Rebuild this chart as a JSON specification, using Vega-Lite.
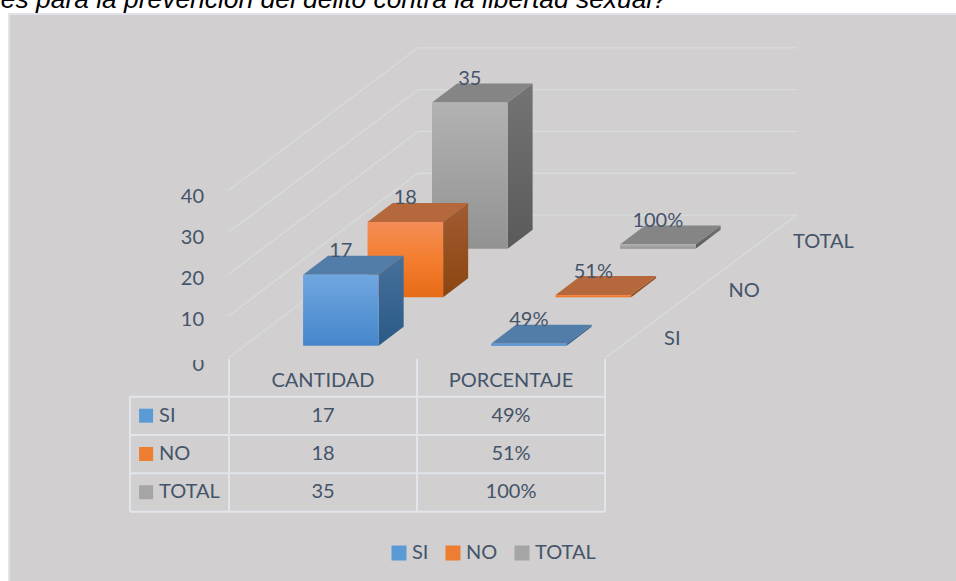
{
"$schema":"https://vega.github.io/schema/vega-lite/v6.json",
"width":956,"height":581,"padding":0,"autosize":"none","background":"white",
"config":{"view":{"stroke":null},"axis":{"disable":true},"text":{"font":"Lato","fontSize":20,"color":"#44546a"}},
"datasets":{
"bars":[
{"metric":"CANTIDAD","series":"SI","value":17},
{"metric":"CANTIDAD","series":"NO","value":18},
{"metric":"CANTIDAD","series":"TOTAL","value":35},
{"metric":"PORCENTAJE","series":"SI","value":0.49},
{"metric":"PORCENTAJE","series":"NO","value":0.51},
{"metric":"PORCENTAJE","series":"TOTAL","value":1}],
"levels":[{"level":0},{"level":10},{"level":20},{"level":30},{"level":40}],
"seriesNames":[{"series":"SI"},{"series":"NO"},{"series":"TOTAL"}],
"metricNames":[{"metric":"CANTIDAD"},{"metric":"PORCENTAJE"}]
},
"layer":[
{"data":{"values":[{"part":"chart area"}]},
 "mark":{"type":"rect","fill":"#d1cfcf","stroke":"#dfe3e8","strokeWidth":2},
 "encoding":{
  "x":{"datum":-1.17,"type":"quantitative","scale":{"domain":[-1.21809,3.86702],"nice":false,"zero":false}},
  "x2":{"datum":4},
  "y":{"datum":82.3,"type":"quantitative","scale":{"domain":[-53.349,85.646],"nice":false,"zero":false}},
  "y2":{"datum":-60}}},
{"data":{"values":[{"t":"es para la prevención del delito contra la libertad sexual?"}]},
 "mark":{"type":"text","font":"Liberation Sans","fontStyle":"italic","fontSize":26.4,"color":"#000000","align":"left","baseline":"alphabetic"},
 "encoding":{"x":{"datum":-1.2135},"y":{"datum":83.7},"text":{"field":"t"}}},
{"data":{"name":"levels"},
 "layer":[
 {"mark":{"type":"rule","stroke":"#d9dbde","strokeWidth":1.3},
  "encoding":{"x":{"datum":1.005},"x2":{"datum":3.021},"y":{"field":"back","type":"quantitative"}}},
 {"mark":{"type":"rule","stroke":"#d9dbde","strokeWidth":1.3},
  "encoding":{"x":{"datum":-0.005},"x2":{"datum":1.005},"y":{"field":"front","type":"quantitative"},"y2":{"field":"back"}}},
 {"mark":{"type":"text","align":"right","baseline":"middle"},
  "encoding":{"x":{"datum":-0.133},"y":{"field":"lab","type":"quantitative"},"text":{"field":"level","type":"quantitative"}}}
 ],
 "transform":[
  {"calculate":"datum.level","as":"front"},
  {"calculate":"datum.level+34.2","as":"back"},
  {"calculate":"datum.level==0?-1.6:datum.level*0.988-0.9","as":"lab"}]},
{"data":{"values":[{"part":"label clip"}]},
 "mark":{"type":"rect","fill":"#d1cfcf"},
 "encoding":{"x":{"datum":-0.207},"x2":{"datum":-0.09},"y":{"datum":-0.5},"y2":{"datum":1.9}}},
{"data":{"values":[{"part":"floor edge"}]},
 "mark":{"type":"rule","stroke":"#d9dbde","strokeWidth":1.3},
 "encoding":{"x":{"datum":2},"x2":{"datum":3.021},"y":{"datum":0},"y2":{"datum":34.2}}},
{"data":{"name":"bars"},
 "transform":[
  {"calculate":"indexof(['SI','NO','TOTAL'],datum.series)","as":"s"},
  {"calculate":"indexof(['CANTIDAD','PORCENTAJE'],datum.metric)","as":"m"},
  {"calculate":"datum.m+0.394+0.343*datum.s","as":"xl"},
  {"calculate":"datum.xl+0.402","as":"xr"},
  {"calculate":"2.94+11.6*datum.s","as":"yb"},
  {"calculate":"datum.yb+datum.value","as":"yt"},
  {"calculate":"[0,1]","as":"t"},
  {"flatten":["t"]},
  {"calculate":"datum.xr+datum.t*0.133","as":"sx"},
  {"calculate":"datum.yb+datum.t*4.55","as":"sy"},
  {"calculate":"datum.yt+datum.t*4.55","as":"sy2"},
  {"calculate":"datum.xl+datum.t*0.133","as":"tx"},
  {"calculate":"datum.xr+datum.t*0.133","as":"tx2"}
 ],
 "layer":[
 {"transform":[{"filter":"datum.series=='TOTAL'"}],"layer":[
  {"mark":{"type":"area","fill":{"x1":0,"y1":0,"x2":0,"y2":1,"gradient":"linear","stops":[{"offset":0,"color":"#747474"},{"offset":1,"color":"#5a5a5a"}]}},
   "encoding":{"x":{"field":"sx","type":"quantitative"},"y":{"field":"sy","type":"quantitative"},"y2":{"field":"sy2"},"detail":{"field":"metric"}}},
  {"mark":{"type":"area","orient":"horizontal","fill":"#858585"},
   "encoding":{"y":{"field":"sy2","type":"quantitative"},"x":{"field":"tx","type":"quantitative"},"x2":{"field":"tx2"},"detail":{"field":"metric"}}},
  {"transform":[{"filter":"datum.t==0"}],
   "mark":{"type":"rect","fill":{"x1":0,"y1":0,"x2":0,"y2":1,"gradient":"linear","stops":[{"offset":0,"color":"#b2b2b2"},{"offset":1,"color":"#929292"}]}},
   "encoding":{"x":{"field":"xl","type":"quantitative"},"x2":{"field":"xr"},"y":{"field":"yb","type":"quantitative"},"y2":{"field":"yt"}}}]},
 {"transform":[{"filter":"datum.series=='NO'"}],"layer":[
  {"mark":{"type":"area","fill":{"x1":0,"y1":0,"x2":0,"y2":1,"gradient":"linear","stops":[{"offset":0,"color":"#a05c32"},{"offset":1,"color":"#8a4510"}]}},
   "encoding":{"x":{"field":"sx","type":"quantitative"},"y":{"field":"sy","type":"quantitative"},"y2":{"field":"sy2"},"detail":{"field":"metric"}}},
  {"mark":{"type":"area","orient":"horizontal","fill":"#b5683c"},
   "encoding":{"y":{"field":"sy2","type":"quantitative"},"x":{"field":"tx","type":"quantitative"},"x2":{"field":"tx2"},"detail":{"field":"metric"}}},
  {"transform":[{"filter":"datum.t==0"}],
   "mark":{"type":"rect","fill":{"x1":0,"y1":0,"x2":0,"y2":1,"gradient":"linear","stops":[{"offset":0,"color":"#f48d56"},{"offset":0.5,"color":"#f47d2e"},{"offset":1,"color":"#e66b17"}]}},
   "encoding":{"x":{"field":"xl","type":"quantitative"},"x2":{"field":"xr"},"y":{"field":"yb","type":"quantitative"},"y2":{"field":"yt"}}}]},
 {"transform":[{"filter":"datum.series=='SI'"}],"layer":[
  {"mark":{"type":"area","fill":{"x1":0,"y1":0,"x2":0,"y2":1,"gradient":"linear","stops":[{"offset":0,"color":"#46709b"},{"offset":1,"color":"#2a5a88"}]}},
   "encoding":{"x":{"field":"sx","type":"quantitative"},"y":{"field":"sy","type":"quantitative"},"y2":{"field":"sy2"},"detail":{"field":"metric"}}},
  {"mark":{"type":"area","orient":"horizontal","fill":"#527da8"},
   "encoding":{"y":{"field":"sy2","type":"quantitative"},"x":{"field":"tx","type":"quantitative"},"x2":{"field":"tx2"},"detail":{"field":"metric"}}},
  {"transform":[{"filter":"datum.t==0"}],
   "mark":{"type":"rect","fill":{"x1":0,"y1":0,"x2":0,"y2":1,"gradient":"linear","stops":[{"offset":0,"color":"#70a7e0"},{"offset":1,"color":"#4586cb"}]}},
   "encoding":{"x":{"field":"xl","type":"quantitative"},"x2":{"field":"xr"},"y":{"field":"yb","type":"quantitative"},"y2":{"field":"yt"}}}]},
 {"transform":[
   {"filter":"datum.t==1"},
   {"calculate":"datum.metric=='PORCENTAJE'?format(datum.value,'.0%'):''+datum.value","as":"label"},
   {"calculate":"datum.xl+0.201","as":"lx"},
   {"calculate":"datum.m+0.5","as":"cx"},
   {"calculate":"-13.8-9.16*datum.s","as":"rowv"}],
  "layer":[
  {"mark":{"type":"text","baseline":"middle","dy":-4.5},
   "encoding":{"x":{"field":"lx","type":"quantitative"},"y":{"field":"sy2","type":"quantitative"},"text":{"field":"label"}}},
  {"mark":{"type":"text","baseline":"middle"},
   "encoding":{"x":{"field":"cx","type":"quantitative"},"y":{"field":"rowv","type":"quantitative"},"text":{"field":"label"}}}
  ]}
 ]},
{"data":{"values":[{"line":0},{"line":1},{"line":2},{"line":3}]},
 "transform":[{"calculate":"-9.26-9.17*datum.line","as":"ly"}],
 "mark":{"type":"rule","stroke":"#e2e6ec","strokeWidth":2},
 "encoding":{"x":{"datum":-0.527},"x2":{"datum":2},"y":{"field":"ly","type":"quantitative"}}},
{"data":{"values":[{"col":0},{"col":1},{"col":2}]},
 "mark":{"type":"rule","stroke":"#e2e6ec","strokeWidth":2},
 "encoding":{"x":{"field":"col","type":"quantitative"},"y":{"datum":-0.24},"y2":{"datum":-36.77}}},
{"data":{"values":[{"col":"left"}]},
 "mark":{"type":"rule","stroke":"#e2e6ec","strokeWidth":2},
 "encoding":{"x":{"datum":-0.527},"y":{"datum":-9.26},"y2":{"datum":-36.77}}},
{"data":{"name":"metricNames"},
 "transform":[{"calculate":"indexof(['CANTIDAD','PORCENTAJE'],datum.metric)+0.5","as":"cx"}],
 "mark":{"type":"text","baseline":"middle"},
 "encoding":{"x":{"field":"cx","type":"quantitative"},"y":{"datum":-5.4},"text":{"field":"metric"}}},
{"data":{"name":"seriesNames"},
 "transform":[
  {"calculate":"indexof(['SI','NO','TOTAL'],datum.series)","as":"s"},
  {"calculate":"-13.8-9.16*datum.s","as":"rowv"},
  {"calculate":"2.314+0.343*datum.s","as":"depthx"},
  {"calculate":"4.5+11.6*datum.s","as":"depthy"}],
 "layer":[
 {"mark":{"type":"text","align":"left","baseline":"middle"},
  "encoding":{"x":{"datum":-0.372},"y":{"field":"rowv","type":"quantitative"},"text":{"field":"series"}}},
 {"mark":{"type":"text","align":"left","baseline":"middle"},
  "encoding":{"x":{"field":"depthx","type":"quantitative"},"y":{"field":"depthy","type":"quantitative"},"text":{"field":"series"}}},
 {"mark":{"type":"point","shape":"square","filled":true,"size":196,"opacity":1},
  "encoding":{"x":{"datum":-0.441},"y":{"field":"rowv","type":"quantitative"},
   "color":{"field":"series","type":"nominal","scale":{"domain":["SI","NO","TOTAL"],"range":["#5b9bd5","#ed7d31","#a5a5a5"]},
    "legend":{"title":null,"orient":"none","legendX":389,"legendY":543,"columns":3,"columnPadding":14,"symbolType":"square","symbolSize":225,"symbolStrokeWidth":0,"labelFont":"Lato","labelFontSize":20,"labelColor":"#44546a","labelOffset":3}}}}
 ]}
]
}
